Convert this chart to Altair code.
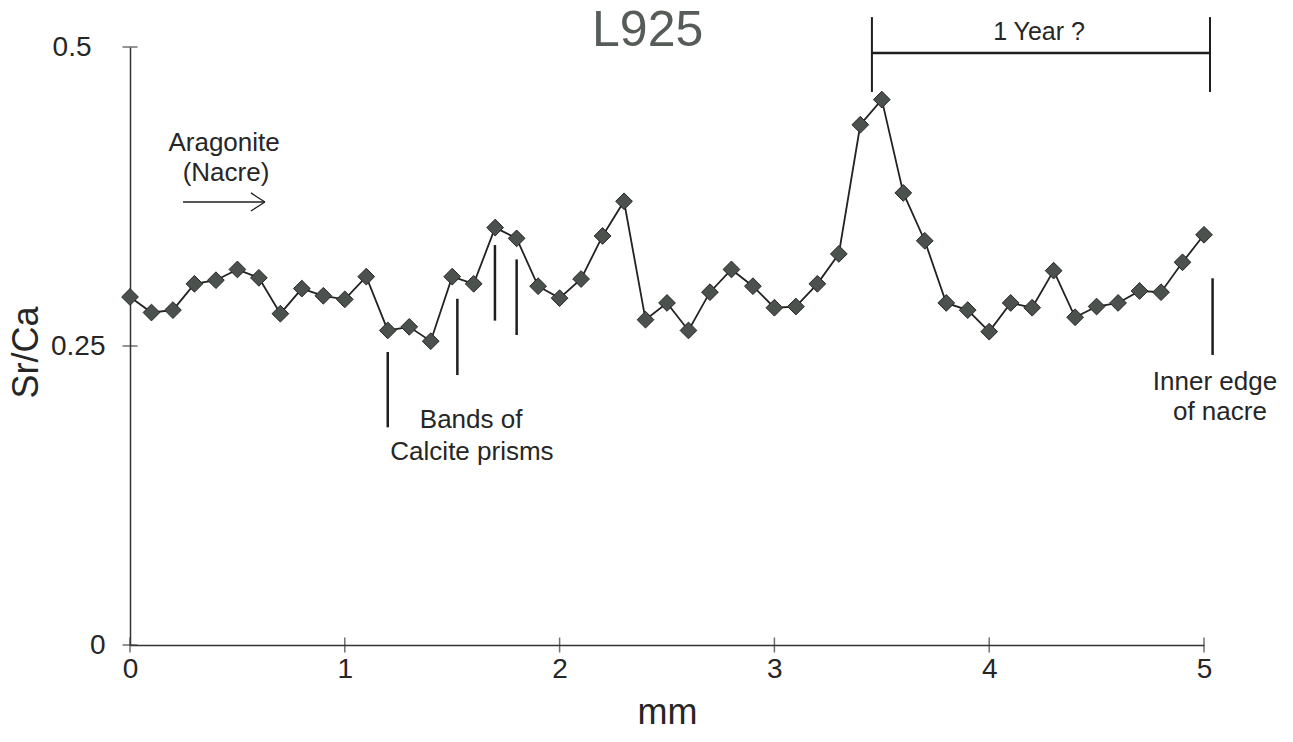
import altair as alt
import pandas as pd

# ---- data ----
mm = [0.0, 0.1, 0.2, 0.3, 0.4, 0.5, 0.6, 0.7, 0.8, 0.9,
      1.0, 1.1, 1.2, 1.3, 1.4, 1.5, 1.6, 1.7, 1.8, 1.9,
      2.0, 2.1, 2.2, 2.3, 2.4, 2.5, 2.6, 2.7, 2.8, 2.9,
      3.0, 3.1, 3.2, 3.3, 3.4, 3.5, 3.6, 3.7, 3.8, 3.9,
      4.0, 4.1, 4.2, 4.3, 4.4, 4.5, 4.6, 4.7, 4.8, 4.9, 5.0]
sr_ca = [0.291, 0.278, 0.280, 0.302, 0.305, 0.314, 0.307, 0.277, 0.298, 0.292,
         0.289, 0.308, 0.263, 0.266, 0.254, 0.308, 0.302, 0.349, 0.340, 0.300,
         0.290, 0.306, 0.342, 0.371, 0.272, 0.286, 0.263, 0.295, 0.314, 0.300,
         0.282, 0.283, 0.302, 0.327, 0.435, 0.456, 0.378, 0.338, 0.286, 0.280,
         0.262, 0.286, 0.282, 0.313, 0.274, 0.283, 0.286, 0.296, 0.295, 0.320, 0.343]

x_ticks = [0, 1, 2, 3, 4, 5]
y_ticks = [0, 0.25, 0.5]

# annotation segments (data units)
seg_x = [1.20, 1.524, 1.699, 1.80, 5.04, 3.454, 5.028, 3.454, 0.247, 0.563, 0.563]
seg_y = [0.245, 0.2895, 0.3344, 0.3224, 0.3066, 0.525, 0.525, 0.495, 0.3704, 0.378, 0.3629]
seg_x2 = [1.20, 1.524, 1.699, 1.80, 5.04, 3.454, 5.028, 5.028, 0.628, 0.628, 0.628]
seg_y2 = [0.182, 0.2257, 0.2712, 0.2592, 0.2425, 0.4624, 0.4624, 0.495, 0.3704, 0.3704, 0.3704]
seg_w = [2.5, 2.5, 2.5, 2.5, 2.5, 2.0, 2.0, 2.5, 1.3, 1.3, 1.3]

# annotation texts
note_text = ["Aragonite", "(Nacre)", "Bands of", "Calcite prisms",
             "Inner edge", "of nacre", "1 Year ?"]
note_x = [0.438, 0.447, 1.588, 1.592, 5.051, 5.074, 4.232]
note_y = [0.4197, 0.3946, 0.1881, 0.1614, 0.2199, 0.1948, 0.5125]
note_size = [26, 26, 26, 26, 26, 26, 25]

title_text = ["L925"]
title_x = [2.41]
title_y = [0.5135]

# ---- tables ----
df = pd.DataFrame({"mm": mm, "srca": sr_ca})
segs = pd.DataFrame({"x": seg_x, "y": seg_y, "x2": seg_x2, "y2": seg_y2, "w": seg_w})
notes = pd.DataFrame({"t": note_text, "x": note_x, "y": note_y, "s": note_size})
ttl = pd.DataFrame({"t": title_text, "x": title_x, "y": title_y})
xt = pd.DataFrame({"x": x_ticks, "y": [0] * len(x_ticks)})
yt = pd.DataFrame({"x": [0] * len(y_ticks), "y": y_ticks})

FONT = "Liberation Sans"
INK = "#262626"

xscale = alt.Scale(domain=[0, 5], nice=False, zero=False)
yscale = alt.Scale(domain=[0, 0.5], nice=False)

xaxis = alt.Axis(values=x_ticks, ticks=False, tickSize=0, grid=False, format="d",
                 labelFontSize=28, labelFont=FONT, labelColor=INK, labelPadding=10,
                 domainColor="#333333", domainWidth=1.5,
                 title="mm", titleFont=FONT, titleFontSize=36, titleFontWeight="normal",
                 titleColor=INK, titlePadding=12, labelFlush=False)
yaxis = alt.Axis(values=y_ticks, ticks=False, tickSize=0, grid=False, format="~g",
                 labelFontSize=28, labelFont=FONT, labelColor=INK,
                 labelPadding={"condition": {"test": "datum.value == 0.5", "value": 39}, "value": 25},
                 domainColor="#333333", domainWidth=1.5,
                 title="Sr/Ca", titleFont=FONT, titleFontSize=36, titleFontWeight="normal",
                 titleColor=INK, titleAngle=-90, titleX=-104, titleY=305,
                 titleBaseline="middle", titleAlign="center", labelFlush=False)

line = alt.Chart(df).mark_line(color="#222222", strokeWidth=1.8).encode(
    x=alt.X("mm:Q", scale=xscale, axis=xaxis),
    y=alt.Y("srca:Q", scale=yscale, axis=yaxis),
)
pts = alt.Chart(df).mark_point(shape="diamond", filled=True, size=280, fill="#4b524e",
                               stroke="#262626", strokeWidth=1, opacity=1).encode(
    x="mm:Q", y="srca:Q")

rules = alt.Chart(segs).mark_rule(color="#1e1e1e", clip=False).encode(
    x="x:Q", y="y:Q", x2="x2:Q", y2="y2:Q",
    strokeWidth=alt.StrokeWidth("w:Q", scale=None))

texts = alt.Chart(notes).mark_text(font=FONT, color=INK, align="center", baseline="middle").encode(
    x="x:Q", y="y:Q", text="t:N", size=alt.Size("s:Q", scale=None))

title = alt.Chart(ttl).mark_text(font=FONT, color="#565c57", fontSize=50, align="center",
                                 baseline="middle").encode(x="x:Q", y="y:Q", text="t:N")

xticks = alt.Chart(xt).mark_tick(orient="vertical", size=15, thickness=1.5, color="#333333").encode(
    x="x:Q", y="y:Q")
yticks = alt.Chart(yt).mark_tick(orient="horizontal", size=15, thickness=1.5, color="#333333").encode(
    x="x:Q", y="y:Q")

chart = alt.layer(line, pts, rules, texts, title, xticks, yticks).properties(
    width=1074, height=598,
    autosize=alt.AutoSizeParams(type="none"),
    padding={"left": 130, "top": 47, "right": 89, "bottom": 97},
    background="white",
).configure_view(stroke=None)

chart.save("out.html", embed_options={"renderer": "svg", "actions": False})
